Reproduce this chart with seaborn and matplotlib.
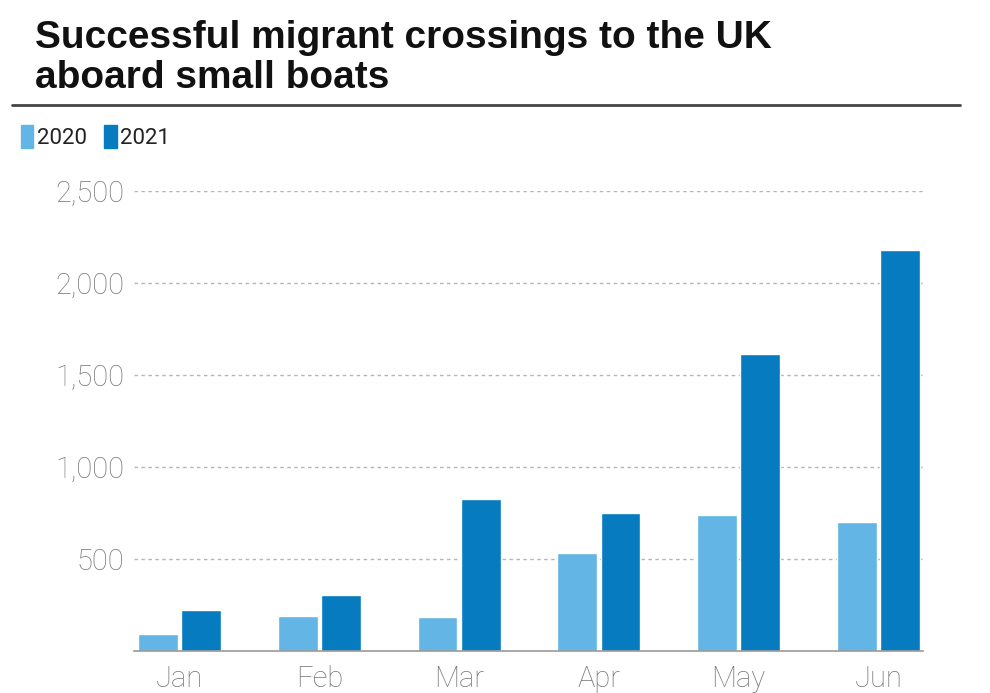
import matplotlib
matplotlib.use('Agg')
import matplotlib.pyplot as plt
import seaborn as sns
import pandas as pd
from matplotlib.lines import Line2D
from matplotlib.ticker import FuncFormatter

months = ['Jan', 'Feb', 'Mar', 'Apr', 'May', 'Jun']
crossings_2020 = [92, 190, 185, 535, 739, 701]
crossings_2021 = [223, 304, 826, 750, 1616, 2178]
years = ['2020', '2021']
colors = {'2020': '#62b5e4', '2021': '#067bc0'}

df = pd.DataFrame({
    'month': months * 2,
    'year': ['2020'] * len(months) + ['2021'] * len(months),
    'crossings': crossings_2020 + crossings_2021,
})

sns.set_theme(style='white')
plt.rcParams['font.family'] = ['Liberation Sans', 'DejaVu Sans']

fig = plt.figure(figsize=(9.9, 6.93), dpi=100)
ax = fig.add_axes([134 / 990, 1 - 651 / 693, (923 - 134) / 990, (651 - 191) / 693])

sns.barplot(data=df, x='month', y='crossings', hue='year', order=months,
            hue_order=years, palette=colors, width=0.62, gap=0.08,
            saturation=1, ax=ax, legend=False)

ax.set_ylim(0, 2500)
ax.set_xlim(-0.326, 5.319)
ax.set_yticks([500, 1000, 1500, 2000, 2500])
ax.yaxis.set_major_formatter(FuncFormatter(lambda v, p: f'{int(v):,}'))
ax.set_xlabel('')
ax.set_ylabel('')
ax.set_axisbelow(True)
ax.grid(axis='y', color='#b5b5b5', linestyle=(0, (2.5, 2.5)), linewidth=1)
ax.grid(axis='x', visible=False)
for s in ['top', 'right', 'left']:
    ax.spines[s].set_visible(False)
ax.spines['bottom'].set_color('#9a9a9a')
ax.spines['bottom'].set_linewidth(1.2)
ax.tick_params(axis='both', length=0, colors='#777777', labelsize=21)
ax.tick_params(axis='y', pad=7)
ax.tick_params(axis='x', pad=10)
for lab in ax.get_xticklabels() + ax.get_yticklabels():
    lab.set_fontfamily(['Roboto', 'DejaVu Sans'])
    lab.set_fontweight('light')

# title
fig.text(35 / 990, 1 - 48 / 693, 'Successful migrant crossings to the UK',
         fontsize=28, fontweight='bold', color='#111111', va='baseline', ha='left')
fig.text(35 / 990, 1 - 88 / 693, 'aboard small boats',
         fontsize=28, fontweight='bold', color='#111111', va='baseline', ha='left')
fig.add_artist(Line2D([12 / 990, 960 / 990], [1 - 105 / 693, 1 - 105 / 693],
                      transform=fig.transFigure, color='#444444', linewidth=2))

# legend
handles = [plt.Rectangle((0, 0), 1, 1, color=colors[y]) for y in years]
leg = fig.legend(handles, years, loc='center left',
                 bbox_to_anchor=(21 / 990, 1 - 137 / 693), frameon=False,
                 ncol=2, fontsize=16, handlelength=0.55, handleheight=1.2,
                 handletextpad=0.15, columnspacing=0.8, borderpad=0,
                 borderaxespad=0)
for t in leg.get_texts():
    t.set_color('#222222')
    t.set_fontfamily(['Roboto', 'DejaVu Sans'])

fig.savefig('out.png', dpi=100)
